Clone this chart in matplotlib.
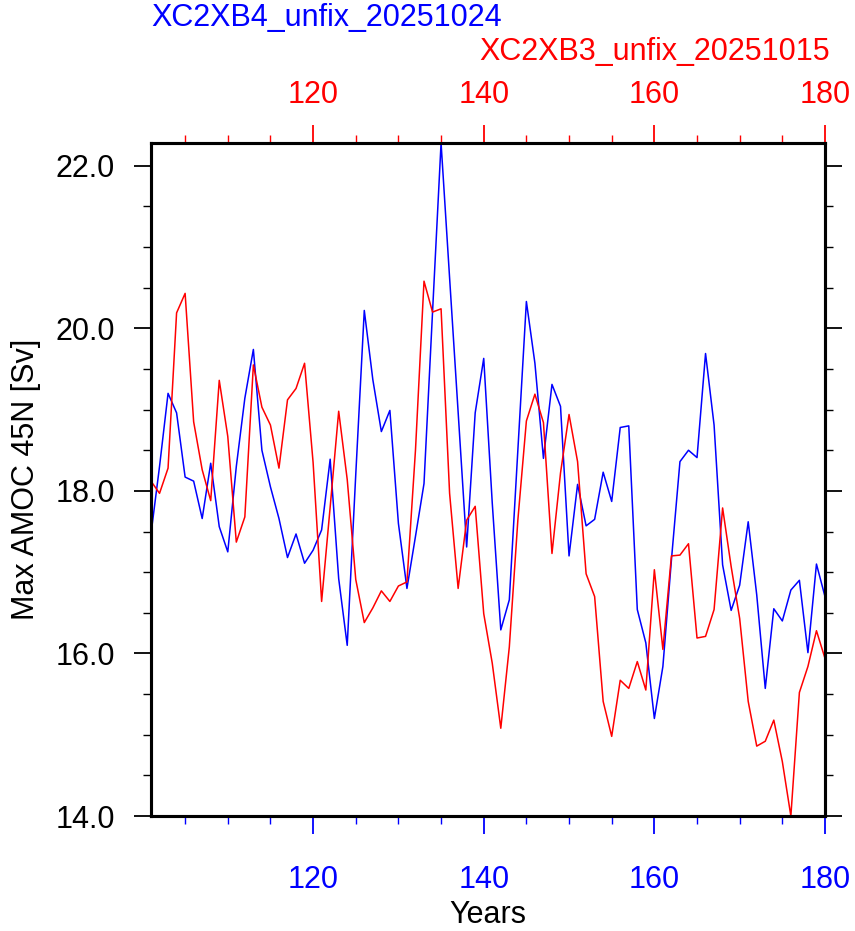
import numpy as np
import matplotlib
matplotlib.use("Agg")
import matplotlib.pyplot as plt
from matplotlib.ticker import MultipleLocator, FormatStrFormatter

plt.rcParams['font.family'] = ['Liberation Sans', 'DejaVu Sans']

years = np.arange(101, 181)

# XC2XB4_unfix_20251024 (blue, bottom axis)
amoc_b4 = [17.47, 18.30, 19.20, 18.96, 18.17, 18.12, 17.66, 18.34, 17.56, 17.25,
           18.30, 19.14, 19.74, 18.50, 18.05, 17.66, 17.18, 17.47, 17.11, 17.27,
           17.52, 18.39, 16.92, 16.10, 18.20, 20.22, 19.37, 18.73, 18.99, 17.60,
           16.80, 17.44, 18.09, 20.20, 22.28, 20.62, 18.97, 17.31, 18.96, 19.63,
           17.85, 16.29, 16.66, 18.50, 20.33, 19.57, 18.40, 19.31, 19.04, 17.20,
           18.08, 17.57, 17.65, 18.23, 17.87, 18.78, 18.80, 16.54, 16.13, 15.20,
           15.84, 17.15, 18.36, 18.50, 18.41, 19.69, 18.81, 17.09, 16.53, 16.84,
           17.62, 16.72, 15.57, 16.55, 16.40, 16.78, 16.90, 16.01, 17.10, 16.70]

# XC2XB3_unfix_20251015 (red, top axis)
amoc_b3 = [18.12, 17.97, 18.28, 20.19, 20.43, 18.85, 18.26, 17.88, 19.36, 18.67,
           17.37, 17.68, 19.55, 19.03, 18.81, 18.28, 19.12, 19.26, 19.57, 18.35,
           16.64, 17.80, 18.98, 18.14, 16.91, 16.38, 16.56, 16.77, 16.64, 16.83,
           16.88, 18.50, 20.58, 20.20, 20.24, 17.97, 16.80, 17.64, 17.81, 16.49,
           15.88, 15.08, 16.08, 17.64, 18.86, 19.19, 18.84, 17.23, 18.22, 18.94,
           18.36, 16.98, 16.70, 15.41, 14.98, 15.67, 15.57, 15.90, 15.55, 17.03,
           16.05, 17.20, 17.21, 17.35, 16.19, 16.21, 16.54, 17.79, 17.07, 16.43,
           15.41, 14.86, 14.92, 15.18, 14.67, 14.00, 15.52, 15.84, 16.28, 15.94]

fs = 22

fig = plt.figure(figsize=(8.55, 9.31), dpi=100)
ax = fig.add_axes([0.1766, 0.1235, 0.7883, 0.7229])
ax2 = ax.twiny()

ax.plot(years, amoc_b4, color="blue", lw=1.1)
ax2.plot(years, amoc_b3, color="red", lw=1.1)

ymin = min(min(amoc_b4), min(amoc_b3))
ymax = max(max(amoc_b4), max(amoc_b3))
for a in (ax, ax2):
    a.set_xlim(years[0], years[-1])
    a.xaxis.set_major_locator(MultipleLocator(20))
    a.xaxis.set_minor_locator(MultipleLocator(5))
ax.set_ylim(ymin, ymax)
ax.yaxis.set_major_locator(MultipleLocator(2))
ax.yaxis.set_minor_locator(MultipleLocator(0.5))
ax.yaxis.set_major_formatter(FormatStrFormatter('%.1f'))

ax.tick_params(axis='y', which='both', direction='out', left=True, right=True,
               labelsize=fs, colors='black', pad=14)
ax.tick_params(axis='y', which='major', length=12, width=1.3)
ax.tick_params(axis='y', which='minor', length=6, width=1.0)
ax.tick_params(axis='x', which='both', direction='out', top=False,
               colors='blue', labelsize=fs, pad=22)
ax.tick_params(axis='x', which='major', length=13, width=1.3)
ax.tick_params(axis='x', which='minor', length=6, width=1.0)
ax2.tick_params(axis='x', which='both', direction='out', bottom=False,
                colors='red', labelsize=fs, pad=11)
ax2.tick_params(axis='x', which='major', length=13, width=1.3)
ax2.tick_params(axis='x', which='minor', length=6, width=1.0)

for a in (ax, ax2):
    for s in a.spines.values():
        s.set_linewidth(2.2)
        s.set_color('black')

ax.set_xlabel('Years', fontsize=fs, labelpad=4)
ax.set_ylabel('Max AMOC 45N [Sv]', fontsize=fs, labelpad=10)

fig.text(0.1766, 0.981, 'XC2XB4_unfix_20251024', color='blue', fontsize=fs,
         ha='left', va='center')
fig.text(0.971, 0.944, 'XC2XB3_unfix_20251015', color='red', fontsize=fs,
         ha='right', va='center')

fig.savefig('out.png', dpi=100)
